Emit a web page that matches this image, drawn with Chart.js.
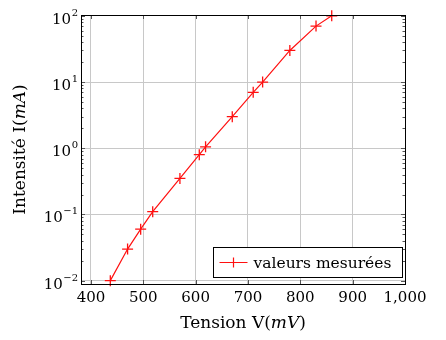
<!DOCTYPE html>
<html>
<head>
<meta charset="utf-8">
<script src="https://cdn.jsdelivr.net/npm/chart.js@4.4.1/dist/chart.umd.min.js"></script>
<style>
  html, body { margin: 0; padding: 0; background: #fff; }
  #wrap { width: 446px; height: 340px; }
</style>
</head>
<body>
<div id="wrap"><canvas id="chart"></canvas></div>
<script>
// Caractéristique I(V) mesurée
const voltages = [437, 470, 495, 518, 570, 607, 619, 670, 710, 728, 780, 830, 860]
const currents = [0.01, 0.03, 0.06, 0.11, 0.35, 0.8, 1.05, 3, 7, 10, 30, 70, 100]
const xTicks = [400, 500, 600, 700, 800, 900, 1000]
const yDecades = [0.01, 0.1, 1, 10, 100]
const seriesLabel = 'valeurs mesurées'

const SERIF = '"DejaVu Serif", "Liberation Serif", serif'
const RED = '#ff1010'

// text with italic pieces: parts = [[text, italic], ...]
function drawMixed(ctx, parts, x, y, size, align) {
  let total = 0
  parts.forEach(p => {
    ctx.font = (p[1] ? 'italic ' : '') + size + 'px ' + SERIF
    total += ctx.measureText(p[0]).width
  })
  let cx = align === 'center' ? x - total / 2 : x
  ctx.textAlign = 'left'
  parts.forEach(p => {
    ctx.font = (p[1] ? 'italic ' : '') + size + 'px ' + SERIF
    ctx.fillText(p[0], cx, y)
    cx += ctx.measureText(p[0]).width
  })
}

const framePlugin = {
  id: 'frame',
  afterDraw(chart) {
    const ctx = chart.ctx
    const a = chart.chartArea
    const xs = chart.scales.x
    const ys = chart.scales.y
    ctx.save()

    // tick marks inside the frame
    ctx.strokeStyle = '#555'
    ctx.lineWidth = 1
    ctx.beginPath()
    xTicks.forEach(v => {
      const px = Math.round(xs.getPixelForValue(v)) + 0.5
      ctx.moveTo(px, a.bottom); ctx.lineTo(px, a.bottom - 4)
      ctx.moveTo(px, a.top); ctx.lineTo(px, a.top + 4)
    })
    for (let e = -3; e <= 2; e++) {
      for (let m = 1; m <= 9; m++) {
        const v = m * Math.pow(10, e)
        if (v < ys.min || v > ys.max) continue
        const py = Math.round(ys.getPixelForValue(v)) + 0.5
        const len = m === 1 ? 4 : 2.5
        ctx.moveTo(a.left, py); ctx.lineTo(a.left + len, py)
        ctx.moveTo(a.right, py); ctx.lineTo(a.right - len, py)
      }
    }
    ctx.stroke()

    // frame
    ctx.strokeStyle = '#000'
    ctx.lineWidth = 1
    ctx.strokeRect(Math.round(a.left) + 0.5, Math.round(a.top) + 0.5,
      Math.round(a.right - a.left), Math.round(a.bottom - a.top))

    // tick labels
    ctx.fillStyle = '#000'
    ctx.textBaseline = 'alphabetic'
    ctx.font = '15px ' + SERIF
    ctx.textAlign = 'center'
    xTicks.forEach(v => {
      ctx.fillText(v.toLocaleString('en-US'), xs.getPixelForValue(v), a.bottom + 18)
    })
    yDecades.forEach(v => {
      const py = ys.getPixelForValue(v)
      const exp = String(Math.round(Math.log10(v))).replace('-', '\u2212')
      ctx.font = '10px ' + SERIF
      ctx.textAlign = 'right'
      const ew = ctx.measureText(exp).width
      const right = a.left - 3
      ctx.fillText(exp, right, py)
      ctx.font = '15px ' + SERIF
      ctx.fillText('10', right - ew - 0.5, py + 8)
    })

    // axis titles
    drawMixed(ctx, [['Tension V(', false], ['mV', true], [')', false]],
      (a.left + a.right) / 2, 328, 17, 'center')
    ctx.save()
    ctx.translate(25, (a.top + a.bottom) / 2)
    ctx.rotate(-Math.PI / 2)
    drawMixed(ctx, [['Intensité I(', false], ['mA', true], [')', false]], 0, 0, 17, 'center')
    ctx.restore()

    // legend box
    const lx = 213.5, ly = 247.5, lw = 189, lh = 30
    ctx.fillStyle = '#fff'
    ctx.fillRect(lx, ly, lw, lh)
    ctx.strokeStyle = '#000'
    ctx.strokeRect(lx, ly, lw, lh)
    const my = ly + lh / 2
    ctx.strokeStyle = RED
    ctx.lineWidth = 1.2
    ctx.beginPath()
    ctx.moveTo(lx + 6, my); ctx.lineTo(lx + 34, my)
    ctx.moveTo(lx + 20, my - 5); ctx.lineTo(lx + 20, my + 5)
    ctx.moveTo(lx + 15, my); ctx.lineTo(lx + 25, my)
    ctx.stroke()
    ctx.fillStyle = '#000'
    ctx.font = '15.5px ' + SERIF
    ctx.textAlign = 'left'
    ctx.fillText(seriesLabel, lx + 40, my + 5)

    ctx.restore()
  }
}

new Chart(document.getElementById('chart'), {
  type: 'line',
  data: {
    labels: voltages,
    datasets: [{
      label: seriesLabel,
      data: voltages.map((v, i) => ({ x: v, y: currents[i] })),
      borderColor: RED,
      backgroundColor: RED,
      borderWidth: 1.2,
      pointStyle: 'cross',
      pointRadius: 5.5,
      pointBorderWidth: 1.3,
      tension: 0,
      clip: false
    }]
  },
  options: {
    responsive: true,
    maintainAspectRatio: false,
    animation: false,
    layout: { padding: { top: 15, right: 41, left: 0, bottom: 0 } },
    plugins: { legend: { display: false }, tooltip: { enabled: false } },
    scales: {
      x: {
        type: 'linear',
        min: 381,
        max: 1000,
        afterBuildTicks: scale => { scale.ticks = xTicks.map(v => ({ value: v })) },
        afterFit: scale => { scale.height = 56 },
        ticks: { display: false },
        grid: { color: '#c8c8c8', lineWidth: 1, drawTicks: false },
        border: { display: false }
      },
      y: {
        type: 'logarithmic',
        min: 0.0089,
        max: 103,
        afterBuildTicks: scale => { scale.ticks = yDecades.map(v => ({ value: v })) },
        afterFit: scale => { scale.width = 81 },
        ticks: { display: false },
        grid: { color: '#c8c8c8', lineWidth: 1, drawTicks: false },
        border: { display: false }
      }
    }
  },
  plugins: [framePlugin]
})
</script>
</body>
</html>
